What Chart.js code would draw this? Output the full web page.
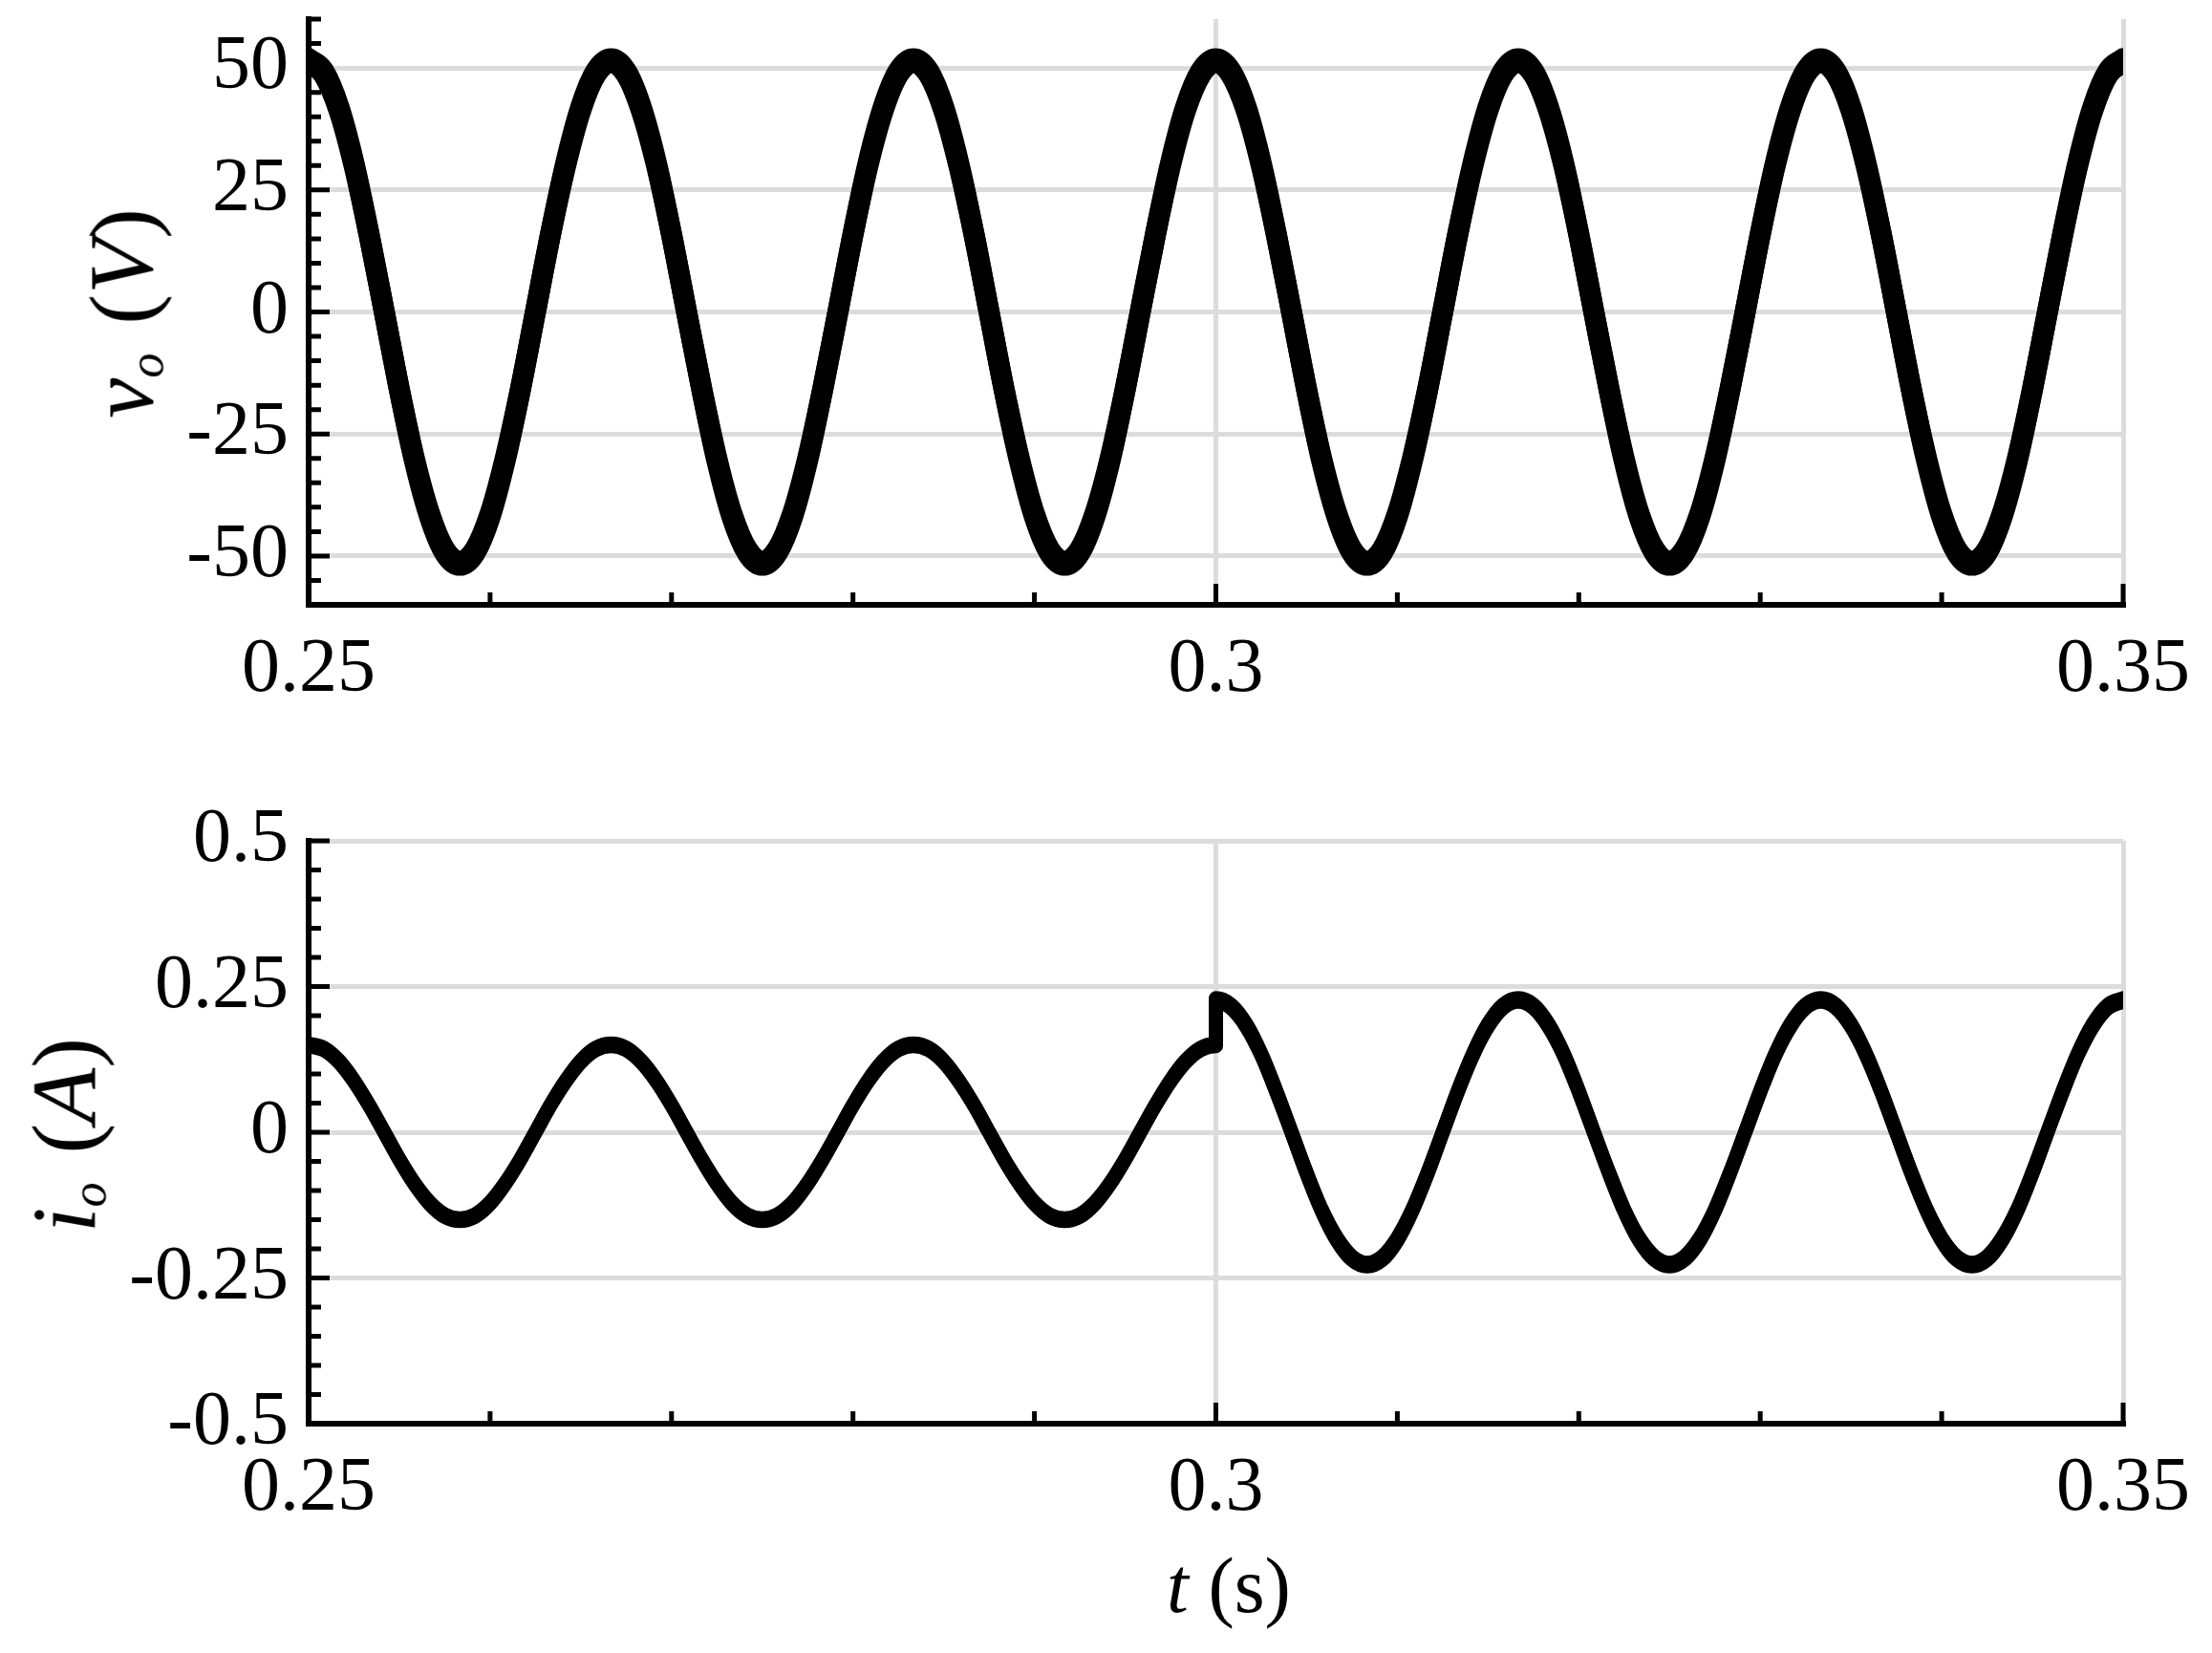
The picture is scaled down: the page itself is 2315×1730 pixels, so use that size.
<!DOCTYPE html>
<html><head><meta charset="utf-8">
<script src="https://cdn.jsdelivr.net/npm/chart.js@4.4.1/dist/chart.umd.min.js"></script>
<style>
html,body{margin:0;padding:0;background:#fff;overflow:hidden;}
#wrap{position:relative;width:2315px;height:1730px;overflow:hidden;background:#fff;}
canvas{position:absolute;left:0;}
.ttl{position:absolute;font-family:'Liberation Serif','Times New Roman',serif;color:#000;white-space:nowrap;line-height:1;transform:translate(-50%,-50%) rotate(-90deg);}
.ttl.h{transform:translate(-50%,-50%);}
.sb{font-size:0.55em;position:relative;top:0.21em;margin-right:0.12em;}
</style></head>
<body>
<div id="wrap">
<canvas id="cv" width="2315" height="760" style="top:0"></canvas>
<canvas id="ci" width="2315" height="970" style="top:760px"></canvas>
<div class="ttl" style="left:128px;top:328px;font-size:95px"><i>v</i><i class="sb">o</i> (<i>V</i>)</div>
<div class="ttl" style="left:68px;top:1188px;font-size:95px"><i>i</i><i class="sb">o</i> (<i>A</i>)</div>
<div class="ttl h" style="left:1286px;top:1660px;font-size:82px"><i>t</i> (s)</div>
</div>
<script>
// time samples (s)
const time = [
0.25,0.25083,0.25167,0.2525,0.25333,0.25417,0.255,0.25583,0.25667,0.2575,0.25833,0.25917,
0.26,0.26083,0.26167,0.2625,0.26333,0.26417,0.265,0.26583,0.26667,0.2675,0.26833,0.26917,
0.27,0.27083,0.27167,0.2725,0.27333,0.27417,0.275,0.27583,0.27667,0.2775,0.27833,0.27917,
0.28,0.28083,0.28167,0.2825,0.28333,0.28417,0.285,0.28583,0.28667,0.2875,0.28833,0.28917,
0.29,0.29083,0.29167,0.2925,0.29333,0.29417,0.295,0.29583,0.29667,0.2975,0.29833,0.29917,
0.3,0.30083,0.30167,0.3025,0.30333,0.30417,0.305,0.30583,0.30667,0.3075,0.30833,0.30917,
0.31,0.31083,0.31167,0.3125,0.31333,0.31417,0.315,0.31583,0.31667,0.3175,0.31833,0.31917,
0.32,0.32083,0.32167,0.3225,0.32333,0.32417,0.325,0.32583,0.32667,0.3275,0.32833,0.32917,
0.33,0.33083,0.33167,0.3325,0.33333,0.33417,0.335,0.33583,0.33667,0.3375,0.33833,0.33917,
0.34,0.34083,0.34167,0.3425,0.34333,0.34417,0.345,0.34583,0.34667,0.3475,0.34833,0.34917,
0.35];

// v_o (V): outer and inner edge of the ripple band
const vOuter = [
51.9,49.4,42.0,30.5,16.0,0,-16.0,-30.5,-42.0,-49.4,-51.9,-49.4,-42.0,-30.5,-16.0,0,16.0,30.5,42.0,49.4,
51.9,49.4,42.0,30.5,16.0,0,-16.0,-30.5,-42.0,-49.4,-51.9,-49.4,-42.0,-30.5,-16.0,0,16.0,30.5,42.0,49.4,
51.9,49.4,42.0,30.5,16.0,0,-16.0,-30.5,-42.0,-49.4,-51.9,-49.4,-42.0,-30.5,-16.0,0,16.0,30.5,42.0,49.4,
51.9,49.4,42.0,30.5,16.0,0,-16.0,-30.5,-42.0,-49.4,-51.9,-49.4,-42.0,-30.5,-16.0,0,16.0,30.5,42.0,49.4,
51.9,49.4,42.0,30.5,16.0,0,-16.0,-30.5,-42.0,-49.4,-51.9,-49.4,-42.0,-30.5,-16.0,0,16.0,30.5,42.0,49.4,
51.9,49.4,42.0,30.5,16.0,0,-16.0,-30.5,-42.0,-49.4,-51.9,-49.4,-42.0,-30.5,-16.0,0,16.0,30.5,42.0,49.4,
51.9];
const vInner = [
51.1,48.6,41.3,30.0,15.8,0,-15.8,-30.0,-41.3,-48.6,-51.1,-48.6,-41.3,-30.0,-15.8,0,15.8,30.0,41.3,48.6,
51.1,48.6,41.3,30.0,15.8,0,-15.8,-30.0,-41.3,-48.6,-51.1,-48.6,-41.3,-30.0,-15.8,0,15.8,30.0,41.3,48.6,
51.1,48.6,41.3,30.0,15.8,0,-15.8,-30.0,-41.3,-48.6,-51.1,-48.6,-41.3,-30.0,-15.8,0,15.8,30.0,41.3,48.6,
51.1,48.6,41.3,30.0,15.8,0,-15.8,-30.0,-41.3,-48.6,-51.1,-48.6,-41.3,-30.0,-15.8,0,15.8,30.0,41.3,48.6,
51.1,48.6,41.3,30.0,15.8,0,-15.8,-30.0,-41.3,-48.6,-51.1,-48.6,-41.3,-30.0,-15.8,0,15.8,30.0,41.3,48.6,
51.1,48.6,41.3,30.0,15.8,0,-15.8,-30.0,-41.3,-48.6,-51.1,-48.6,-41.3,-30.0,-15.8,0,15.8,30.0,41.3,48.6,
51.1];

// i_o (A): before the load step (t = 0.25 .. 0.3)
const iOuterPre = [
0.152,0.145,0.123,0.089,0.047,0,-0.047,-0.089,-0.123,-0.145,-0.152,-0.145,-0.123,-0.089,-0.047,0,0.047,0.089,0.123,0.145,
0.152,0.145,0.123,0.089,0.047,0,-0.047,-0.089,-0.123,-0.145,-0.152,-0.145,-0.123,-0.089,-0.047,0,0.047,0.089,0.123,0.145,
0.152,0.145,0.123,0.089,0.047,0,-0.047,-0.089,-0.123,-0.145,-0.152,-0.145,-0.123,-0.089,-0.047,0,0.047,0.089,0.123,0.145,
0.152];
const iInnerPre = [
0.148,0.141,0.12,0.087,0.046,0,-0.046,-0.087,-0.12,-0.141,-0.148,-0.141,-0.12,-0.087,-0.046,0,0.046,0.087,0.12,0.141,
0.148,0.141,0.12,0.087,0.046,0,-0.046,-0.087,-0.12,-0.141,-0.148,-0.141,-0.12,-0.087,-0.046,0,0.046,0.087,0.12,0.141,
0.148,0.141,0.12,0.087,0.046,0,-0.046,-0.087,-0.12,-0.141,-0.148,-0.141,-0.12,-0.087,-0.046,0,0.046,0.087,0.12,0.141,
0.148];
// i_o (A): after the load step (t = 0.3 .. 0.35)
const iOuterPost = [
0.23,0.219,0.186,0.135,0.071,0,-0.071,-0.135,-0.186,-0.219,-0.23,-0.219,-0.186,-0.135,-0.071,0,0.071,0.135,0.186,0.219,
0.23,0.219,0.186,0.135,0.071,0,-0.071,-0.135,-0.186,-0.219,-0.23,-0.219,-0.186,-0.135,-0.071,0,0.071,0.135,0.186,0.219,
0.23,0.219,0.186,0.135,0.071,0,-0.071,-0.135,-0.186,-0.219,-0.23,-0.219,-0.186,-0.135,-0.071,0,0.071,0.135,0.186,0.219,
0.23];
const iInnerPost = [
0.224,0.213,0.181,0.132,0.069,0,-0.069,-0.132,-0.181,-0.213,-0.224,-0.213,-0.181,-0.132,-0.069,0,0.069,0.132,0.181,0.213,
0.224,0.213,0.181,0.132,0.069,0,-0.069,-0.132,-0.181,-0.213,-0.224,-0.213,-0.181,-0.132,-0.069,0,0.069,0.132,0.181,0.213,
0.224,0.213,0.181,0.132,0.069,0,-0.069,-0.132,-0.181,-0.213,-0.224,-0.213,-0.181,-0.132,-0.069,0,0.069,0.132,0.181,0.213,
0.224];

// tick labels
const tTicks = [0.25, 0.3, 0.35];
const vTicks = [-50, -25, 0, 25, 50];
const iTicks = [-0.5, -0.25, 0, 0.25, 0.5];

const FONT = "'Liberation Serif','Times New Roman',serif";
const GRID = '#dcdcdc';
function match(list, v){ return list.find(l => Math.abs(l - v) < 1e-7); }
function pts(xs, ys){ return ys.map((y, i) => ({x: xs[i], y: y})); }

const tickPlugin = {
  id: 'inTicks',
  beforeDatasetsDraw(chart, args, o){
    const ctx = chart.ctx, a = chart.chartArea, x = chart.scales.x, y = chart.scales.y;
    ctx.save();
    ctx.strokeStyle = '#000'; ctx.lineWidth = 5; ctx.lineCap = 'butt';
    ctx.beginPath();
    x.ticks.forEach(t => {
      const p = x.getPixelForValue(t.value);
      const L = match(o.xMajor, t.value) !== undefined ? 22 : 13;
      ctx.moveTo(p, a.bottom); ctx.lineTo(p, a.bottom - L);
    });
    y.ticks.forEach(t => {
      const p = y.getPixelForValue(t.value);
      const L = match(o.yMajor, t.value) !== undefined ? 22 : 13;
      ctx.moveTo(a.left, p); ctx.lineTo(a.left + L, p);
    });
    ctx.stroke();
    ctx.restore();
  }
};

function zeroPad(s){ s.paddingTop = 0; s.paddingBottom = 0; s.paddingLeft = 0; s.paddingRight = 0; }

function makeChart(id, datasets, yMin, yMax, yStep, yLabels, padTop, xH){
  return new Chart(document.getElementById(id), {
    type: 'line',
    data: { datasets: datasets },
    options: {
      responsive: false, animation: false, devicePixelRatio: 1,
      layout: { padding: { top: padTop, right: 93, bottom: 0, left: 0 } },
      plugins: { legend: { display: false }, tooltip: { enabled: false }, inTicks: { xMajor: tTicks, yMajor: yLabels } },
      elements: {
        point: { radius: 0, hoverRadius: 0 },
        line: { borderColor: '#000', borderCapStyle: 'round', borderJoinStyle: 'round', cubicInterpolationMode: 'monotone', fill: false }
      },
      scales: {
        x: {
          type: 'linear', min: 0.25, max: 0.35,
          afterFit(s){ s.height = xH; zeroPad(s); },
          ticks: { stepSize: 0.01, autoSkip: false, maxRotation: 0, minRotation: 0, padding: 21, color: '#000',
                   font: { family: FONT, size: 80 },
                   callback: v => { const m = match(tTicks, v); return m === undefined ? '' : String(m); } },
          grid: { drawTicks: false, lineWidth: 5, color: c => (c.tick && match(tTicks, c.tick.value) !== undefined) ? GRID : 'rgba(0,0,0,0)' },
          border: { display: true, color: '#000', width: 6 }
        },
        y: {
          type: 'linear', min: yMin, max: yMax,
          afterFit(s){ s.width = 323; zeroPad(s); },
          ticks: { stepSize: yStep, autoSkip: false, padding: 21, color: '#000',
                   font: { family: FONT, size: 80 },
                   callback: v => { const m = match(yLabels, v); return m === undefined ? '' : String(m); } },
          grid: { drawTicks: false, lineWidth: 5, color: c => (c.tick && match(yLabels, c.tick.value) !== undefined) ? GRID : 'rgba(0,0,0,0)' },
          border: { display: true, color: '#000', width: 6 }
        }
      }
    },
    plugins: [tickPlugin]
  });
}

makeChart('cv', [
  { label: 'v_o outer', data: pts(time, vOuter), borderWidth: 22 },
  { label: 'v_o inner', data: pts(time, vInner), borderWidth: 22 }
], -60, 60, 5, vTicks, 20, 127);

const tPre = time.slice(0, 61), tPost = time.slice(60);
makeChart('ci', [
  { label: 'i_o outer', data: pts(tPre, iOuterPre).concat(pts(tPost, iOuterPost)), borderWidth: 15 },
  { label: 'i_o inner', data: pts(tPre, iInnerPre).concat(pts(tPost, iInnerPost)), borderWidth: 15 }
], -0.5, 0.5, 0.05, iTicks, 120, 240);
</script>
</body></html>
